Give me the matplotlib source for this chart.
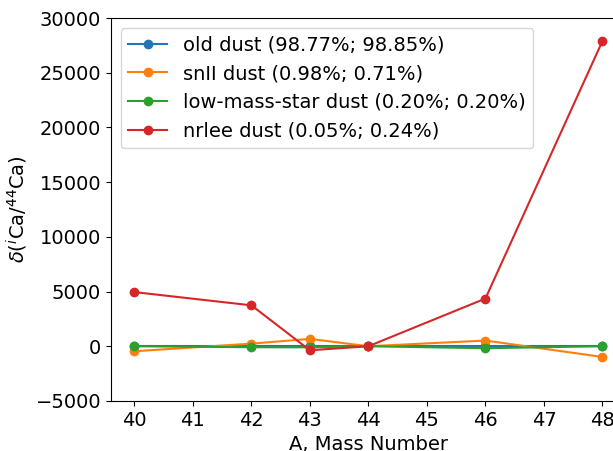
import matplotlib
matplotlib.use('Agg')
import matplotlib.pyplot as plt

# Mass numbers of the Ca isotopes
mass_numbers = [40, 42, 43, 44, 46, 48]
x_ticks = [40, 41, 42, 43, 44, 45, 46, 47, 48]

# delta(iCa/44Ca) for each dust component
old_dust = [0, 0, 0, 0, 0, 0]
snii_dust = [-460, 240, 670, 0, 520, -980]
low_mass_star_dust = [0, -90, -100, 0, -180, 0]
nrlee_dust = [4950, 3740, -370, 0, 4360, 27900]

labels = [
    'old dust (98.77%; 98.85%)',
    'snII dust (0.98%; 0.71%)',
    'low-mass-star dust (0.20%; 0.20%)',
    'nrlee dust (0.05%; 0.24%)',
]

plt.rcParams['font.size'] = 14

fig = plt.figure(figsize=(6.13, 4.51), dpi=100)
ax = fig.add_axes([0.181, 0.111, 0.840, 0.849])

for values, label in zip(
    [old_dust, snii_dust, low_mass_star_dust, nrlee_dust], labels
):
    ax.plot(mass_numbers, values, marker='o', label=label)

ax.set_ylim(-5000, 30000)
ax.set_xticks(x_ticks)
ax.set_xlabel('A, Mass Number')
ax.set_ylabel(r'$\delta(^{i}$Ca/$^{44}$Ca)')
ax.legend(loc='upper left')

fig.savefig('out.png', dpi=100)
